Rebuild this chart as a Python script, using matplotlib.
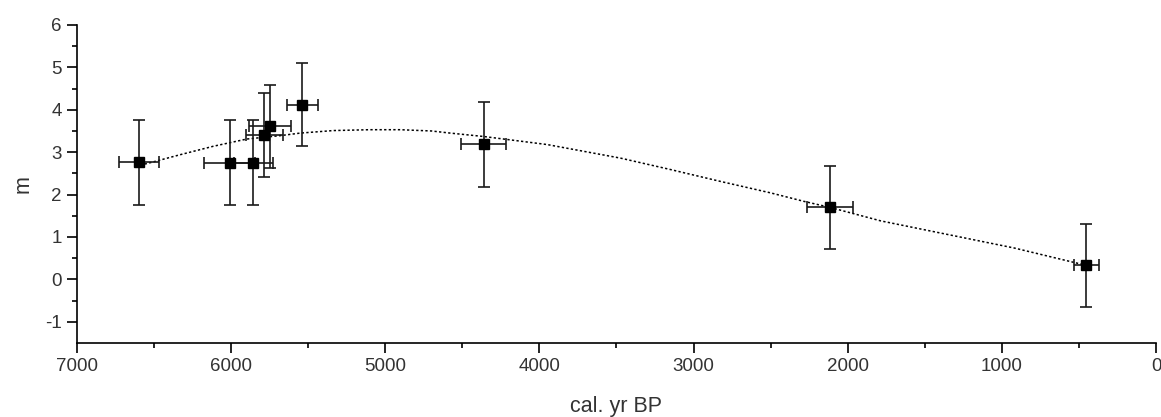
import matplotlib.pyplot as plt

plt.rcParams["font.family"] = ["Liberation Sans", "DejaVu Sans"]
plt.rcParams["axes.unicode_minus"] = False

# data points (cal. yr BP, m) with errors
age = [6595, 6010, 5855, 5784, 5747, 5539, 4362, 2117, 451]
m = [2.76, 2.75, 2.75, 3.40, 3.61, 4.12, 3.19, 1.70, 0.33]
age_err = [130, 165, 125, 122, 135, 100, 145, 150, 80]
m_err = [1.0, 1.0, 1.0, 0.99, 0.98, 0.98, 1.0, 0.98, 0.98]

# dotted trend curve
curve_age = [6590, 6548, 6331, 6115, 5898, 5682, 5552, 5336, 5100, 4903,
             4700, 4578, 4362, 3950, 3474, 3149, 2825, 2500, 2284, 2117,
             1786, 1353, 920, 532, 450]
curve_m = [2.70, 2.73, 2.94, 3.14, 3.31, 3.39, 3.45, 3.51, 3.53, 3.53,
           3.50, 3.45, 3.37, 3.18, 2.86, 2.59, 2.31, 2.04, 1.84, 1.70,
           1.38, 1.06, 0.74, 0.40, 0.33]

xticks = [7000, 6000, 5000, 4000, 3000, 2000, 1000, 0]
xminor = [6500, 5500, 4500, 3500, 2500, 1500, 500]
yticks = [-1, 0, 1, 2, 3, 4, 5, 6]
yminor = [-0.5, 0.5, 1.5, 2.5, 3.5, 4.5, 5.5]

fig = plt.figure(figsize=(11.61, 4.17), dpi=100)
ax = fig.add_axes([0.0663, 0.1775, 0.9294, 0.7626])

ax.plot(curve_age, curve_m, linestyle=(0, (1.5, 1.5)), color="black", lw=1.1, zorder=2)
ax.errorbar(age, m, xerr=age_err, yerr=m_err, fmt="s", color="#1a1a1a",
            mfc="black", mec="black", ms=7, elinewidth=1.2, capsize=4,
            capthick=1.2, zorder=3)

ax.set_xlim(7000, 0)
ax.set_ylim(-1.5, 6)
ax.set_xticks(xticks)
ax.set_xticks(xminor, minor=True)
ax.set_yticks(yticks)
ax.set_yticks(yminor, minor=True)

for side in ["top", "right"]:
    ax.spines[side].set_visible(False)
for side in ["left", "bottom"]:
    ax.spines[side].set_linewidth(1.2)

ax.tick_params(which="major", length=7, width=1.2, labelsize=13.5,
               labelcolor="#333333", pad=4)
ax.tick_params(which="minor", length=3.6, width=1.2)

ax.set_xlabel("cal. yr BP", fontsize=15.5, color="#333333", labelpad=15)
ax.set_ylabel("m", fontsize=15.5, color="#333333", labelpad=8)

plt.savefig("out.png", dpi=100)
